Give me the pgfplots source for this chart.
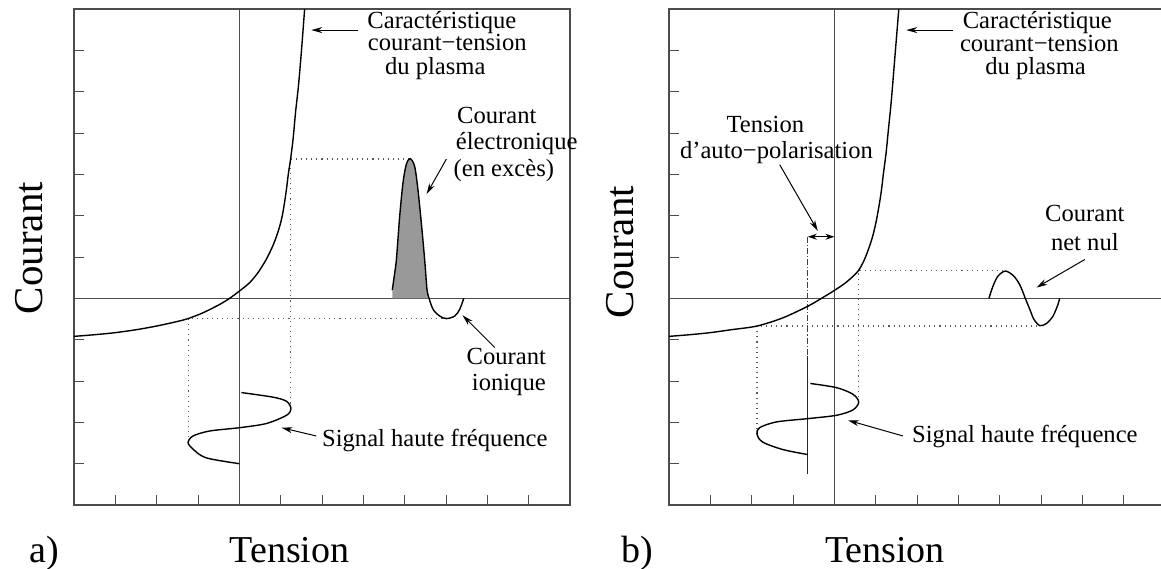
\documentclass[border=0pt]{standalone}
\usepackage{pgfplots}
\pgfplotsset{compat=1.18}
\usepackage{fontspec}
\setmainfont{Liberation Serif}
\usetikzlibrary{arrows.meta}
\newcommand\ann{\fontsize{12.3pt}{14pt}\selectfont}
\newcommand\lab{\fontsize{19pt}{22pt}\selectfont}
\newcommand\ylab{\fontsize{20.5pt}{24pt}\selectfont}
\pgfplotsset{
  panel/.style={anchor=south west, scale only axis, width=248pt, height=248pt,
    xmin=-4, xmax=8, ymin=-5, ymax=7,
    xtick={-3,-2,...,7}, ytick={-4,-3,...,6}, xticklabels={}, yticklabels={},
    tick align=inside, xtick pos=left, ytick pos=left, major tick length=5pt,
    axis line style={black!70, line width=0.6pt},
    tick style={black!70, line width=0.5pt},
    clip=false},
  zeroline/.style={black!70, line width=0.6pt, forget plot},
  curve/.style={black, line width=0.7pt, smooth},
  dots/.style={black!65, line width=0.55pt, dotted},
}
\tikzset{arr/.style={line width=0.5pt, -{Stealth[length=5.5pt,width=3pt]}}}
\begin{document}
\begin{tikzpicture}
\useasboundingbox (0,0) rectangle (580.5pt,284pt);
\clip (0,0) rectangle (580.5pt,284pt);
% ---------------- panel a ----------------
\begin{axis}[panel, at={(37pt,31.5pt)}]
\addplot[zeroline] coordinates {(0,-5) (0,7)};
\addplot[zeroline] coordinates {(-4,0) (8,0)};
% dotted guides
\addplot[dots] coordinates {(1.24,-2.67) (1.24,3.37) (4.13,3.37)};
\addplot[dots] coordinates {(-1.24,-3.49) (-1.24,-0.49) (5.01,-0.49)};
% I-V characteristic
\addplot[curve] coordinates {(-4,-0.92) (-3.5,-0.88) (-3,-0.83) (-2.5,-0.76) (-2,-0.67) (-1.5,-0.56) (-1.24,-0.49) (-0.88,-0.35) (-0.48,-0.15) (-0.235,0) (0.007,0.18) (0.25,0.38) (0.45,0.62) (0.65,0.94) (0.81,1.27) (0.93,1.59) (1.02,1.91) (1.08,2.23) (1.14,2.64) (1.19,3.04) (1.24,3.37) (1.30,3.85) (1.36,4.50) (1.43,5.14) (1.50,5.95) (1.58,7.0)};
% HF signal
\addplot[curve] coordinates {(0.05,-2.28) (0.81,-2.39) (1.14,-2.49) (1.25,-2.67) (1.14,-2.83) (0.65,-3.03) (0,-3.13) (-0.72,-3.21) (-1.12,-3.33) (-1.24,-3.49) (-1.12,-3.65) (-0.80,-3.86) (0,-4.0)};
% electron current (filled)
\addplot[fill=black!40, draw=none] coordinates {(3.70,0) (3.70,0.20) (3.75,0.55) (3.80,0.94) (3.88,1.99) (3.96,2.80) (4.04,3.24) (4.13,3.38) (4.24,3.20) (4.32,2.64) (4.41,1.75) (4.49,0.86) (4.54,0.22) (4.59,0) (3.70,0)};
\addplot[curve] coordinates {(3.70,0.20) (3.75,0.55) (3.80,0.94) (3.88,1.99) (3.96,2.80) (4.04,3.24) (4.13,3.38) (4.24,3.20) (4.32,2.64) (4.41,1.75) (4.49,0.86) (4.54,0.22) (4.59,0) (4.69,-0.27) (4.85,-0.43) (5.01,-0.49) (5.21,-0.43) (5.33,-0.27) (5.43,0)};
% annotations
\node[anchor=base] at (axis cs:4.90,6.52) {\ann Caractéristique};
\node[anchor=base] at (axis cs:5.03,5.99) {\ann courant−tension};
\node[anchor=base] at (axis cs:4.74,5.42) {\ann du plasma};
\draw[arr] (axis cs:2.86,6.49) -- (axis cs:1.74,6.49);
\node[anchor=base] at (axis cs:6.23,4.24) {\ann Courant};
\node[anchor=base] at (axis cs:6.71,3.61) {\ann électronique};
\node[anchor=base] at (axis cs:6.40,2.94) {\ann (en excès)};
\draw[arr] (axis cs:5.01,3.37) -- (axis cs:4.53,2.52);
\node[anchor=base] at (axis cs:6.46,-1.60) {\ann Courant};
\node[anchor=base] at (axis cs:6.52,-2.23) {\ann ionique};
\draw[arr] (axis cs:6.18,-1.19) -- (axis cs:5.40,-0.41);
\node[anchor=base] at (axis cs:4.73,-3.58) {\ann Signal haute fréquence};
\draw[arr] (axis cs:1.86,-3.33) -- (axis cs:1.02,-3.13);
\end{axis}
% ---------------- panel b ----------------
\begin{axis}[panel, at={(334.5pt,31.5pt)}]
\addplot[zeroline] coordinates {(0,-5) (0,7)};
\addplot[zeroline] coordinates {(-4,0) (8,0)};
\addplot[dots] coordinates {(0.59,-2.51) (0.59,0.68) (4.14,0.68)};
\addplot[dots] coordinates {(-1.87,-3.29) (-1.87,-0.67) (4.95,-0.67)};
% self-bias markers
\addplot[black!75, line width=0.5pt, dash pattern=on 3pt off 1pt on 0.6pt off 1pt] coordinates {(-0.64,1.49) (-0.64,-1.40)};
\addplot[black!85, line width=0.55pt] coordinates {(-0.64,-1.40) (-0.64,-4.26)};
\draw[line width=0.5pt, {Stealth[length=4.5pt,width=3pt]}-{Stealth[length=4.5pt,width=3pt]}] (axis cs:-0.64,1.49) -- (axis cs:0,1.49);
% I-V characteristic
\addplot[curve] coordinates {(-4,-0.92) (-3.5,-0.88) (-3,-0.83) (-2.5,-0.76) (-1.87,-0.67) (-1.24,-0.47) (-0.64,-0.19) (-0.31,0) (0,0.19) (0.25,0.36) (0.45,0.53) (0.59,0.68) (0.72,0.92) (0.83,1.20) (0.93,1.51) (1.01,1.85) (1.08,2.23) (1.14,2.62) (1.19,3.04) (1.25,3.50) (1.31,4.10) (1.38,4.80) (1.47,5.90) (1.56,7.0)};
% HF signal
\addplot[curve] coordinates {(-0.58,-2.06) (0.05,-2.16) (0.45,-2.32) (0.59,-2.51) (0.45,-2.70) (0.05,-2.83) (-0.64,-2.91) (-1.40,-2.99) (-1.81,-3.13) (-1.87,-3.29) (-1.73,-3.48) (-1.24,-3.66) (-0.64,-3.78)};
% net current
\addplot[curve] coordinates {(3.74,0) (3.84,0.30) (3.96,0.54) (4.14,0.66) (4.34,0.54) (4.49,0.32) (4.62,0) (4.73,-0.27) (4.83,-0.51) (4.97,-0.66) (5.13,-0.61) (5.29,-0.43) (5.41,-0.15) (5.45,0)};
% annotations
\node[anchor=base] at (axis cs:4.91,6.52) {\ann Caractéristique};
\node[anchor=base] at (axis cs:4.96,5.98) {\ann courant−tension};
\node[anchor=base] at (axis cs:4.87,5.42) {\ann du plasma};
\draw[arr] (axis cs:2.87,6.49) -- (axis cs:1.74,6.49);
\node[anchor=base] at (axis cs:6.06,1.85) {\ann Courant};
\node[anchor=base] at (axis cs:6.06,1.15) {\ann net nul};
\draw[arr] (axis cs:6.06,0.94) -- (axis cs:4.89,0.26);
\node[anchor=base] at (axis cs:4.61,-3.48) {\ann Signal haute fréquence};
\draw[arr] (axis cs:1.66,-3.33) -- (axis cs:0.33,-2.95);
\node[anchor=base] at (axis cs:-1.67,4.01) {\ann Tension};
\node[anchor=base] at (axis cs:-1.40,3.38) {\ann d’auto−polarisation};
\draw[arr] (axis cs:-1.32,3.23) -- (axis cs:-0.40,1.63);
\end{axis}
% outer labels
\node[rotate=90, anchor=center] at (14.75pt,160pt) {\ylab Courant};
\node[rotate=90, anchor=center] at (310pt,158pt) {\ylab Courant};
\node[anchor=base] at (144.75pt,3pt) {\lab Tension};
\node[anchor=base] at (442.5pt,3pt) {\lab Tension};
\node[anchor=base] at (22pt,3pt) {\lab a)};
\node[anchor=base] at (318.5pt,3pt) {\lab b)};
\end{tikzpicture}
\end{document}
